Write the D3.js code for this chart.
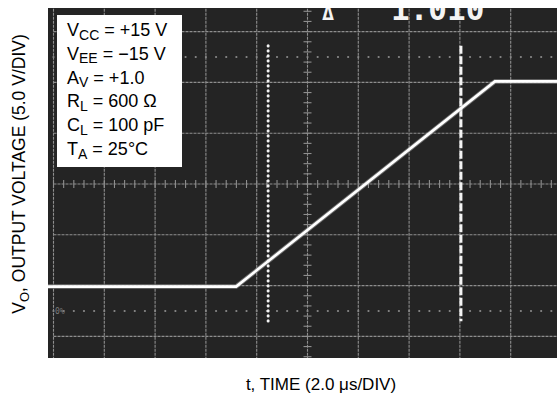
<!DOCTYPE html>
<html>
<head>
<meta charset="utf-8">
<script src="https://cdn.jsdelivr.net/npm/d3@7"></script>
<style>
  body { margin: 0; background: #fff; }
  svg { display: block; }
</style>
</head>
<body>
<div id="chart"></div>
<script>
// Scope trace data (time in us, output in volts)
const traceTime = [-0.3, 7.19, 17.38, 20.2];
const traceVolts = [-10.1, -10.1, 10.1, 10.1];

// cursors: first dotted, second dashed
const cursorTimes = [8.45, 16.04];
const cursorSpan = [-13.5, 13.6];

// 0% / 100% reference levels
const refLevels = [12.5, -12.5];

// graticule
const timeDivs = d3.range(0, 20.01, 2);
const voltDivs = d3.range(-20, 20.01, 5);
const minorTime = d3.range(0, 20.01, 0.4);
const minorVolt = d3.range(-20, 20.01, 1);

const legendMain = ["V", "V", "A", "R", "C", "T"];
const legendSub = ["CC", "EE", "V", "L", "L", "A"];
const legendRest = [" = +15 V", " = \u221215 V", " = +1.0", " = 600 \u03A9", " = 100 pF", " = 25\u00B0C"];

const readoutText = ["\u0394", "1.010"];

const width = 557, height = 398;
const screen = {left: 48, top: 8, right: 557, bottom: 358};

const svg = d3.select("#chart")
  .append("svg")
  .attr("width", width)
  .attr("height", height)
  .style("font-family", "'Liberation Sans', Arial, sans-serif");

const x = d3.scaleLinear().domain([0, 20]).range([53.5, 561.5]);
const y = d3.scaleLinear().domain([-20, 20]).range([387.2, -19.2]);

svg.append("clipPath")
  .attr("id", "screenClip")
  .append("rect")
  .attr("x", screen.left)
  .attr("y", screen.top)
  .attr("width", screen.right - screen.left)
  .attr("height", screen.bottom - screen.top);

// dark screen
svg.append("rect")
  .attr("x", screen.left)
  .attr("y", screen.top)
  .attr("width", screen.right - screen.left)
  .attr("height", screen.bottom - screen.top)
  .attr("fill", "#242424");

const scope = svg.append("g").attr("clip-path", "url(#screenClip)");

// Grid lines
scope.append("g")
  .selectAll("line")
  .data(timeDivs)
  .enter().append("line")
  .attr("x1", d => x(d)).attr("x2", d => x(d))
  .attr("y1", y(20)).attr("y2", y(-20))
  .attr("stroke", "#8e8e8e")
  .attr("stroke-width", 1.1)
  .attr("stroke-dasharray", "3,1");

scope.append("g")
  .selectAll("line")
  .data(voltDivs)
  .enter().append("line")
  .attr("y1", d => y(d)).attr("y2", d => y(d))
  .attr("x1", x(0)).attr("x2", x(20))
  .attr("stroke", "#8e8e8e")
  .attr("stroke-width", 1.1)
  .attr("stroke-dasharray", "3,1");

// minor ticks on center lines
scope.append("g")
  .selectAll("line")
  .data(minorTime)
  .enter().append("line")
  .attr("x1", d => x(d)).attr("x2", d => x(d))
  .attr("y1", y(0) - 4).attr("y2", y(0) + 4)
  .attr("stroke", "#8e8e8e")
  .attr("stroke-width", 1.1);

scope.append("g")
  .selectAll("line")
  .data(minorVolt)
  .enter().append("line")
  .attr("y1", d => y(d)).attr("y2", d => y(d))
  .attr("x1", x(10) - 4).attr("x2", x(10) + 4)
  .attr("stroke", "#8e8e8e")
  .attr("stroke-width", 1.1);

// dotted reference levels
refLevels.forEach(level => {
  scope.append("g")
    .selectAll("circle")
    .data(minorTime)
    .enter().append("circle")
    .attr("cx", d => x(d))
    .attr("cy", y(level))
    .attr("r", 1.1)
    .attr("fill", "#8a8a8a");
});

scope.append("text")
  .attr("x", 55)
  .attr("y", y(refLevels[1]) + 3)
  .attr("fill", "#7a7a7a")
  .style("font-family", "'DejaVu Sans Mono', monospace")
  .style("font-size", "8px")
  .text("0%");

// readout at top (cut off by the screen edge, as on the photo)
scope.append("text")
  .attr("x", 328)
  .attr("y", 20)
  .attr("text-anchor", "middle")
  .attr("fill", "#f4f4f4")
  .style("font-family", "'DejaVu Sans Mono', monospace")
  .style("font-weight", "bold")
  .style("font-size", "20px")
  .text(readoutText[0]);

scope.append("text")
  .attr("x", 391)
  .attr("y", 20)
  .attr("fill", "#f4f4f4")
  .style("font-family", "'DejaVu Sans Mono', monospace")
  .style("font-weight", "bold")
  .style("font-size", "31px")
  .text(readoutText[1]);

// cursors
scope.append("line")
  .attr("x1", x(cursorTimes[0])).attr("x2", x(cursorTimes[0]))
  .attr("y1", y(cursorSpan[1])).attr("y2", y(cursorSpan[0]))
  .attr("stroke", "#f4f4f4")
  .attr("stroke-width", 3)
  .attr("stroke-linecap", "round")
  .attr("stroke-dasharray", "0.1,4.9");

scope.append("line")
  .attr("x1", x(cursorTimes[1])).attr("x2", x(cursorTimes[1]))
  .attr("y1", y(cursorSpan[1])).attr("y2", y(cursorSpan[0]))
  .attr("stroke", "#f4f4f4")
  .attr("stroke-width", 3)
  .attr("stroke-dasharray", "8,2.5");

// trace
const traceData = traceTime.map((t, i) => ({t: t, v: traceVolts[i]}));
const line = d3.line()
  .x(d => x(d.t))
  .y(d => y(d.v));

scope.append("path")
  .datum(traceData)
  .attr("fill", "none")
  .attr("stroke", "#bdbdbd")
  .attr("stroke-width", 4.5)
  .attr("stroke-opacity", 0.5)
  .attr("d", line);

scope.append("path")
  .datum(traceData)
  .attr("fill", "none")
  .attr("stroke", "#ffffff")
  .attr("stroke-width", 2.6)
  .attr("d", line);

// legend box
svg.append("rect")
  .attr("x", 57)
  .attr("y", 15)
  .attr("width", 125)
  .attr("height", 152)
  .attr("fill", "#ffffff");

const legendText = svg.append("g")
  .selectAll("text")
  .data(legendMain)
  .enter().append("text")
  .attr("x", 67)
  .attr("y", (d, i) => 36 + i * 23.8)
  .attr("fill", "#000")
  .style("font-size", "18px");

legendText.append("tspan").text(d => d);
legendText.append("tspan")
  .attr("dy", 3.5)
  .style("font-size", "14px")
  .text((d, i) => legendSub[i]);
legendText.append("tspan")
  .attr("dy", -3.5)
  .text((d, i) => legendRest[i]);

// axis labels
const yLabel = svg.append("text")
  .attr("transform", "translate(25,174) rotate(-90)")
  .attr("text-anchor", "middle")
  .attr("fill", "#000")
  .style("font-size", "17.5px");
yLabel.append("tspan").text("V");
yLabel.append("tspan").attr("dy", 3.5).style("font-size", "13px").text("O");
yLabel.append("tspan").attr("dy", -3.5).text(", OUTPUT VOLTAGE (5.0 V/DIV)");

svg.append("text")
  .attr("x", 321)
  .attr("y", 390)
  .attr("text-anchor", "middle")
  .attr("fill", "#000")
  .style("font-size", "17px")
  .text("t, TIME (2.0 \u03BCs/DIV)");
</script>
</body>
</html>
